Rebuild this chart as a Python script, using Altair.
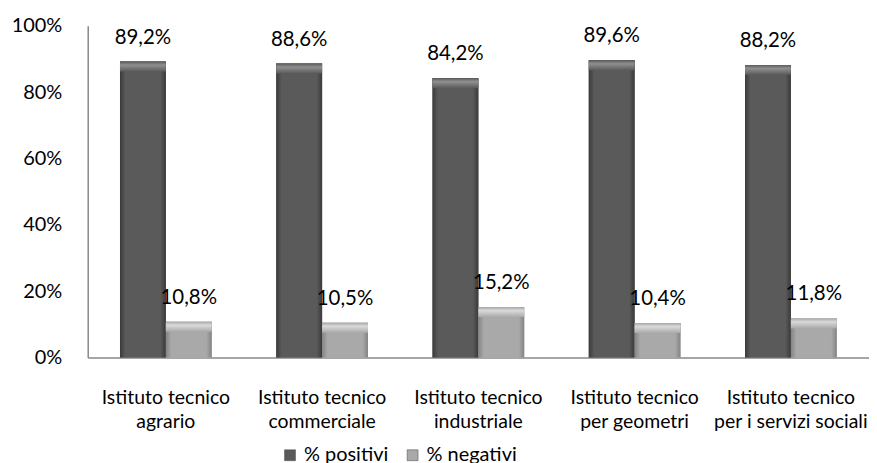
import altair as alt
import pandas as pd

categories = [
    "Istituto tecnico agrario",
    "Istituto tecnico commerciale",
    "Istituto tecnico industriale",
    "Istituto tecnico per geometri",
    "Istituto tecnico per i servizi sociali",
]
series = ["% positivi", "% negativi"]
positivi = [89.2, 88.6, 84.2, 89.6, 88.2]
negativi = [10.8, 10.5, 15.2, 10.4, 11.8]
y_ticks = [0, 20, 40, 60, 80, 100]
base_colors = ["#5a5a5a", "#a9a9a9"]
edge_colors = ["#3a3a3a", "#848484"]
top_colors = ["#909090", "#dadada"]

rows = []
for c, p, n in zip(categories, positivi, negativi):
    for s, v in zip(series, [p, n]):
        rows.append({"cat": c, "serie": s, "val": v,
                     "lab": f"{v:.1f}".replace(".", ",") + "%"})
df = pd.DataFrame(rows)

FONT = "Lato"

x_enc = alt.X("cat:N", sort=categories, title=None,
              scale=alt.Scale(paddingInner=0.413, paddingOuter=0.2065),
              axis=alt.Axis(labelAngle=0, ticks=False, domainColor="#888888",
                            domainWidth=1.5, labelFont=FONT, labelFontSize=19.5,
                            labelColor="black", labelPadding=31, labelLineHeight=24,
                            labelExpr="[slice(datum.label,0,16), slice(datum.label,17)]"))
y_enc = alt.Y("val:Q", title=None,
              scale=alt.Scale(domain=[0, 100], nice=False),
              axis=alt.Axis(values=y_ticks, grid=False, ticks=False,
                            domainColor="#888888", domainWidth=1.5,
                            labelFont=FONT, labelFontSize=20, labelColor="black",
                            labelPadding=26, labelExpr="datum.value + '%'"))
xo = alt.XOffset("serie:N", sort=series, scale=alt.Scale(domain=series))

base = alt.Chart(df)

bars = base.mark_bar().encode(
    x=x_enc, y=y_enc, xOffset=xo,
    color=alt.Color("serie:N", sort=series,
                    scale=alt.Scale(domain=series, range=base_colors),
                    legend=alt.Legend(title=None, orient="none", direction="horizontal",
                                      legendX=193, legendY=421, symbolType="square",
                                      symbolSize=120, labelFont=FONT, labelFontSize=20,
                                      labelColor="black", columnPadding=14,
                                      symbolStrokeColor="#444", symbolStrokeWidth=0.5)),
)

layers = [bars]
for s, bc, ec, tc in zip(series, base_colors, edge_colors, top_colors):
    edge_grad = alt.Gradient(
        gradient="linear", x1=0, x2=1, y1=0, y2=0,
        stops=[alt.GradientStop(offset=0, color=ec),
               alt.GradientStop(offset=0.12, color=bc),
               alt.GradientStop(offset=0.88, color=bc),
               alt.GradientStop(offset=1, color=ec)])
    layers.append(base.mark_bar(color=edge_grad).encode(
        x=x_enc, y=y_enc, xOffset=xo).transform_filter(alt.datum.serie == s))
    top_grad = alt.Gradient(
        gradient="linear", x1=0, x2=0, y1=0, y2=1,
        stops=[alt.GradientStop(offset=0, color=bc),
               alt.GradientStop(offset=0.35, color=tc),
               alt.GradientStop(offset=1, color=bc)])
    layers.append(base.mark_bar(color=top_grad, y2Offset=10, xOffset=4, x2Offset=-4).encode(
        x=x_enc, y=y_enc, y2=alt.Y2("val:Q"), xOffset=xo).transform_filter(alt.datum.serie == s))

labels = base.mark_text(font=FONT, fontSize=20.5, color="black", dy=-24,
                        baseline="middle").encode(
    x=x_enc, y=y_enc, xOffset=xo, text="lab:N")
layers.append(labels)

chart = alt.layer(*layers).properties(
    width=784, height=333,
    autosize=alt.AutoSizeParams(type="none"),
    padding={"left": 80, "top": 17, "right": 0, "bottom": 110},
).configure_view(stroke=None)

chart.save("out.html", embed_options={"renderer": "svg", "actions": False})
